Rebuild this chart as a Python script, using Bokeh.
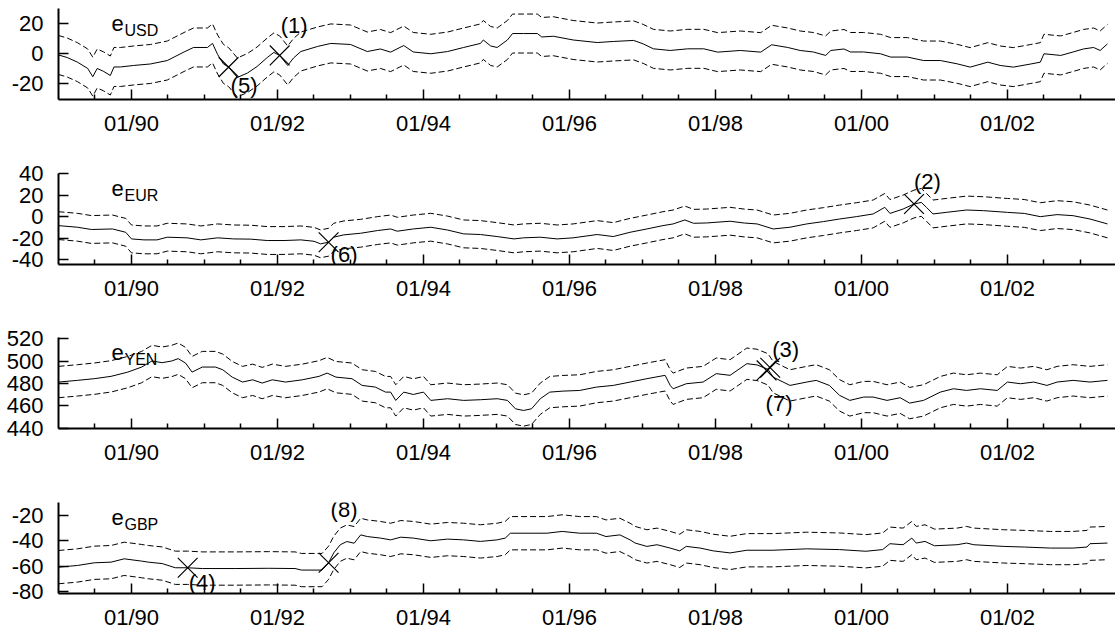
import numpy as np
from bokeh.plotting import figure
from bokeh.layouts import column
from bokeh.models import FixedTicker, Label
from bokeh.core.properties import value
from bokeh.embed import file_html
from bokeh.resources import INLINE

FONT = "Liberation Sans"

# ---------------- axis ticks ----------------
tick_years = [1990, 1992, 1994, 1996, 1998, 2000, 2002]
tick_labels = ["01/90", "01/92", "01/94", "01/96", "01/98", "01/00", "01/02"]
minor_years = [1989.5, 1990.5, 1991.0, 1991.5, 1992.5, 1993.0, 1993.5, 1994.5,
               1995.0, 1995.5, 1996.5, 1997.0, 1997.5, 1998.5, 1999.0, 1999.5,
               2000.5, 2001.0, 2001.5, 2002.5, 2003.0]

# ---------------- USD ----------------
usd_dates = [1989.00, 1989.12, 1989.26, 1989.40, 1989.47, 1989.53, 1989.62, 1989.71, 1989.76,
             1989.85, 1990.03, 1990.26, 1990.49, 1990.72, 1990.85, 1991.04, 1991.11, 1991.18,
             1991.26, 1991.33, 1991.45, 1991.59, 1991.72, 1991.86, 1991.95, 1992.03, 1992.14,
             1992.22, 1992.32, 1992.55, 1992.73, 1993.00, 1993.23, 1993.41, 1993.55, 1993.73,
             1993.86, 1994.10, 1994.33, 1994.55, 1994.78, 1994.82, 1994.92, 1995.01, 1995.15,
             1995.22, 1995.37, 1995.56, 1995.62, 1995.78, 1996.05, 1996.38, 1996.60, 1996.88,
             1997.01, 1997.15, 1997.38, 1997.62, 1997.84, 1998.03, 1998.34, 1998.62, 1998.77,
             1998.99, 1999.16, 1999.34, 1999.51, 1999.58, 1999.76, 1999.85, 2000.03, 2000.26,
             2000.40, 2000.63, 2000.85, 2001.08, 2001.31, 2001.49, 2001.73, 2001.90, 2002.08,
             2002.32, 2002.45, 2002.50, 2002.73, 2002.90, 2003.04, 2003.18, 2003.27, 2003.37]
usd_values = [-1.0, -2.7, -5.8, -10.0, -15.5, -10.0, -12.0, -14.7, -9.0,
              -9.0, -8.0, -7.0, -4.7, 1.0, 4.0, 4.0, 6.7, -0.7,
              -7.0, -9.1, -16.0, -13.0, -8.7, -2.7, 0.7, -1.3, -8.0,
              -3.0, 1.3, 4.7, 6.7, 6.0, 1.3, 3.0, 0.9, 5.3,
              1.0, -0.2, 1.3, 4.0, 6.7, 9.0, 5.0, 4.0, 9.0,
              13.3, 13.3, 13.3, 11.0, 11.5, 9.0, 7.3, 8.0, 8.7,
              6.4, 3.1, 2.0, 3.1, 3.1, 0.9, 2.0, 0.9, 5.8,
              4.0, 2.0, 1.0, -1.3, 2.0, 3.0, 1.0, 1.0, -0.2,
              -2.4, -2.4, -4.7, -4.7, -6.9, -9.1, -5.8, -8.0, -9.1,
              -7.0, -5.8, -0.2, -1.3, 1.0, 3.0, 4.0, 2.0, 6.4]
usd_band = 13.0
usd_yticks = [-20, 0, 20]
usd_event_dates = [1992.03, 1991.33]
usd_event_values = [-1.3, -9.1]
usd_event_labels = ["(1)", "(5)"]

# ---------------- EUR ----------------
eur_dates = [1989.00, 1989.26, 1989.45, 1989.74, 1989.92, 1990.00, 1990.17, 1990.35, 1990.49,
             1990.76, 1990.95, 1991.18, 1991.40, 1991.63, 1991.86, 1992.09, 1992.32, 1992.50,
             1992.59, 1992.70, 1992.77, 1992.91, 1993.14, 1993.37, 1993.55, 1993.64, 1993.86,
             1994.10, 1994.33, 1994.55, 1994.78, 1995.01, 1995.24, 1995.37, 1995.60, 1995.83,
             1996.05, 1996.38, 1996.60, 1996.83, 1997.06, 1997.28, 1997.42, 1997.58, 1997.70,
             1997.88, 1998.20, 1998.40, 1998.57, 1998.79, 1999.02, 1999.25, 1999.48, 1999.70,
             1999.93, 2000.16, 2000.32, 2000.39, 2000.57, 2000.72, 2000.82, 2000.89, 2000.98,
             2001.16, 2001.44, 2001.67, 2002.00, 2002.23, 2002.45, 2002.68, 2002.90, 2003.13,
             2003.37]
eur_values = [-8.4, -9.9, -12.0, -11.5, -14.6, -20.8, -21.7, -21.7, -19.2,
              -19.8, -21.7, -19.8, -20.8, -21.0, -22.3, -22.3, -21.7, -23.0,
              -25.4, -23.9, -19.2, -17.0, -15.5, -13.0, -11.5, -13.6, -11.5,
              -9.9, -12.5, -16.1, -16.7, -18.6, -20.8, -19.8, -19.2, -20.8,
              -19.8, -16.7, -18.6, -14.6, -11.5, -8.4, -6.8, -3.1, -6.2,
              -5.9, -4.3, -6.0, -6.8, -11.5, -9.9, -6.8, -4.6, -2.2,
              0.0, 2.5, 8.7, 3.0, 7.1, 11.8, 13.3, 8.7, 2.5,
              4.0, 6.2, 5.6, 4.0, 3.0, 0.0, 1.9, 0.9, -2.2,
              -6.8]
eur_band = 13.0
eur_yticks = [-40, -20, 0, 20, 40]
eur_event_dates = [2000.72, 1992.70]
eur_event_values = [11.8, -23.9]
eur_event_labels = ["(2)", "(6)"]

# ---------------- YEN ----------------
yen_dates = [1989.00, 1989.26, 1989.49, 1989.72, 1989.95, 1990.14, 1990.28, 1990.42, 1990.55,
             1990.64, 1990.74, 1990.83, 1990.97, 1991.15, 1991.25, 1991.38, 1991.52, 1991.66,
             1991.79, 1991.93, 1992.11, 1992.34, 1992.57, 1992.68, 1992.80, 1993.02, 1993.16,
             1993.34, 1993.48, 1993.55, 1993.62, 1993.73, 1993.86, 1994.00, 1994.10, 1994.33,
             1994.55, 1994.78, 1995.01, 1995.15, 1995.26, 1995.37, 1995.48, 1995.60, 1995.73,
             1995.91, 1996.14, 1996.37, 1996.60, 1996.83, 1997.06, 1997.31, 1997.38, 1997.42,
             1997.60, 1997.83, 1998.01, 1998.20, 1998.43, 1998.57, 1998.72, 1998.79, 1999.02,
             1999.25, 1999.38, 1999.56, 1999.70, 1999.84, 2000.03, 2000.16, 2000.35, 2000.53,
             2000.66, 2000.85, 2001.08, 2001.26, 2001.44, 2001.63, 2001.86, 2002.00, 2002.18,
             2002.36, 2002.54, 2002.68, 2002.90, 2003.13, 2003.37]
yen_values = [481.2, 482.7, 484.2, 486.3, 490.1, 494.6, 500.0, 498.5, 500.0,
              502.1, 498.2, 490.1, 494.6, 494.6, 492.2, 485.6, 481.2, 483.2,
              480.3, 483.2, 481.2, 483.2, 486.3, 489.2, 485.6, 484.2, 478.2,
              476.7, 472.2, 472.2, 464.8, 472.2, 470.1, 472.2, 464.8, 466.3,
              464.8, 465.4, 466.3, 464.8, 457.3, 455.8, 457.3, 466.3, 472.2,
              473.1, 473.7, 476.7, 478.2, 481.2, 484.2, 487.2, 478.2, 475.2,
              479.7, 481.2, 488.7, 487.2, 497.6, 496.5, 492.5, 485.6, 478.2,
              481.2, 482.7, 478.2, 469.3, 464.8, 467.8, 467.8, 464.8, 467.2,
              462.4, 464.8, 472.2, 475.2, 473.7, 475.2, 473.7, 481.2, 479.7,
              481.2, 478.2, 481.2, 482.7, 481.2, 482.7]
yen_band = 14.0
yen_yticks = [440, 460, 480, 500, 520]
yen_event_dates = [1998.75, 1998.70]
yen_event_values = [494.0, 491.6]
yen_event_labels = ["(3)", "(7)"]

# ---------------- GBP ----------------
gbp_dates = [1989.00, 1989.26, 1989.49, 1989.72, 1989.90, 1990.14, 1990.23, 1990.42, 1990.60,
             1990.77, 1990.97, 1991.42, 1991.88, 1992.24, 1992.33, 1992.61, 1992.70, 1992.77,
             1992.86, 1992.95, 1993.05, 1993.14, 1993.23, 1993.41, 1993.55, 1993.69, 1993.86,
             1994.10, 1994.33, 1994.55, 1994.78, 1995.01, 1995.12, 1995.19, 1995.46, 1995.69,
             1995.90, 1996.14, 1996.37, 1996.50, 1996.69, 1996.83, 1996.90, 1997.06, 1997.20,
             1997.38, 1997.51, 1997.60, 1997.79, 1997.97, 1998.20, 1998.43, 1998.79, 1999.25,
             1999.70, 2000.06, 2000.29, 2000.39, 2000.57, 2000.69, 2000.75, 2000.87, 2001.00,
             2001.31, 2001.44, 2001.54, 2001.95, 2002.23, 2002.59, 2002.90, 2003.09, 2003.13,
             2003.37]
gbp_values = [-60.7, -59.4, -57.3, -56.8, -54.2, -56.0, -56.8, -57.9, -61.2,
              -61.2, -61.8, -61.8, -61.6, -61.8, -63.0, -63.0, -57.3, -49.6,
              -43.2, -40.7, -42.0, -35.5, -36.8, -38.0, -39.4, -37.3, -38.0,
              -40.1, -38.8, -39.4, -40.6, -39.4, -38.0, -34.2, -34.2, -34.2,
              -32.8, -34.2, -34.2, -36.8, -35.5, -39.4, -41.9, -44.5, -43.2,
              -45.8, -48.0, -44.5, -45.8, -48.0, -49.6, -47.5, -47.5, -46.4,
              -47.0, -48.3, -47.0, -42.4, -43.2, -38.0, -41.9, -40.6, -44.0,
              -43.2, -41.9, -43.2, -44.5, -45.0, -45.8, -45.8, -45.0, -42.4,
              -41.9]
gbp_band = 13.0
gbp_yticks = [-80, -60, -40, -20]
gbp_event_dates = [1990.77, 1992.70]
gbp_event_values = [-61.2, -57.3]
gbp_event_labels = ["(4)", "(8)"]

# ---------------- panel builder ----------------
FRAME_W = 1057
FRAME_H = 91


def make_panel(dates, vals, band, y_range, yticks, name, ev_x, ev_y, ev_lab,
               ev_dx, ev_dy, border_top, border_bottom):
    p = figure(frame_width=FRAME_W, frame_height=FRAME_H,
               x_range=(1989.0, 2003.48), y_range=y_range,
               output_backend="svg", toolbar_location=None,
               min_border_left=58, min_border_right=0,
               min_border_top=border_top, min_border_bottom=border_bottom)
    p.outline_line_color = None
    p.xgrid.visible = False
    p.ygrid.visible = False
    p.background_fill_color = "white"
    p.border_fill_color = "white"

    for ax in (p.xaxis[0], p.yaxis[0]):
        ax.axis_line_color = "black"
        ax.axis_line_width = 2
        ax.major_tick_in = 10
        ax.major_tick_out = 0
        ax.minor_tick_in = 5
        ax.minor_tick_out = 0
        ax.major_tick_line_color = "black"
        ax.major_tick_line_width = 1.5
        ax.minor_tick_line_color = "black"
        ax.minor_tick_line_width = 1.5
        ax.major_label_text_font = FONT
        ax.major_label_text_font_size = "22px"
        ax.major_label_text_color = "black"

    p.xaxis.ticker = FixedTicker(ticks=tick_years, minor_ticks=minor_years)
    p.xaxis.major_label_overrides = {y: l for y, l in zip(tick_years, tick_labels)}
    p.xaxis.major_label_standoff = 11
    p.yaxis.ticker = FixedTicker(ticks=yticks)
    p.yaxis.major_label_overrides = {t: str(t) for t in yticks}
    p.yaxis.minor_tick_line_color = None
    p.yaxis.major_label_standoff = 15

    v = np.array(vals)
    p.line(dates, v + band, line_color="black", line_width=1, line_dash="6 3")
    p.line(dates, v - band, line_color="black", line_width=1, line_dash="6 3")
    p.line(dates, v, line_color="black", line_width=1)

    p.scatter(ev_x, ev_y, marker="x", size=28, line_color="black", line_width=1.2)
    p.text(x=ev_x, y=ev_y, text=ev_lab, x_offset=ev_dx, y_offset=ev_dy,
           text_font=value(FONT), text_font_size=value("22px"),
           text_align="left", text_baseline="middle", text_color="black")

    p.add_layout(Label(x=53, y=FRAME_H - 15, x_units="screen", y_units="screen",
                       text="e", text_font=FONT, text_font_size="22px",
                       text_baseline="alphabetic", text_color="black"))
    p.add_layout(Label(x=66, y=FRAME_H - 22, x_units="screen", y_units="screen",
                       text=name, text_font=FONT, text_font_size="16px",
                       text_baseline="alphabetic", text_color="black"))
    return p


p1 = make_panel(usd_dates, usd_values, usd_band, (-30.7, 30.0), usd_yticks, "USD",
                usd_event_dates, usd_event_values, usd_event_labels,
                [1, 2], [-30, 18], 8, 60)
p2 = make_panel(eur_dates, eur_values, eur_band, (-44.7, 40.3), eur_yticks, "EUR",
                eur_event_dates, eur_event_values, eur_event_labels,
                [0, 2], [-23, 12], 14, 59)
p3 = make_panel(yen_dates, yen_values, yen_band, (439.7, 521.0), yen_yticks, "YEN",
                yen_event_dates, yen_event_values, yen_event_labels,
                [2, -1], [-18, 33], 14, 60)
p4 = make_panel(gbp_dates, gbp_values, gbp_band, (-81.3, -10.2), gbp_yticks, "GBP",
                gbp_event_dates, gbp_event_values, gbp_event_labels,
                [1, 2], [15, -53], 14, 0)

layout = column(p1, p2, p3, p4)
open("out.html", "w").write(file_html(layout, INLINE))
